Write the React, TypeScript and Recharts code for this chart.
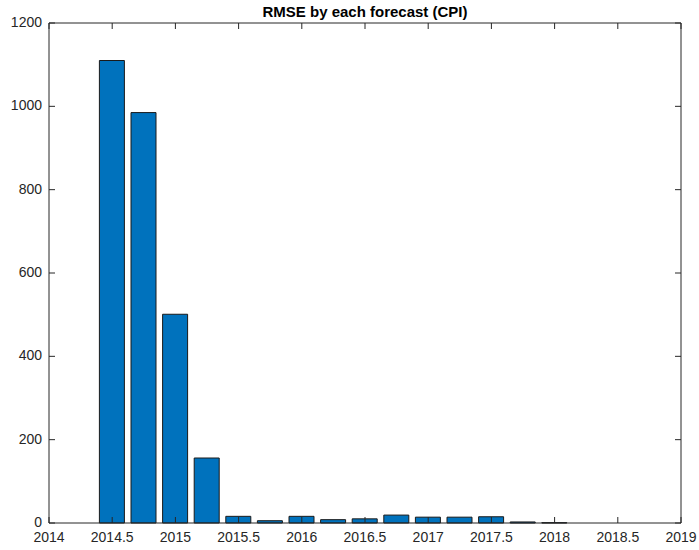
import React from "react";
import { ComposedChart, Bar, Line, XAxis, YAxis } from "recharts";

const periods: number[] = [2014.5, 2014.75, 2015, 2015.25, 2015.5, 2015.75, 2016, 2016.25, 2016.5, 2016.75, 2017, 2017.25, 2017.5, 2017.75, 2018];
const rmse: number[] = [1110, 985, 501, 156, 16, 5.5, 16, 8, 10, 19, 14, 14, 15, 2.5, 0.8];
const xTicks: number[] = [2014, 2014.5, 2015, 2015.5, 2016, 2016.5, 2017, 2017.5, 2018, 2018.5, 2019];
const yTicks: number[] = [0, 200, 400, 600, 800, 1000, 1200];
const title = "RMSE by each forecast (CPI)";

const data = periods.map((p, i) => ({ period: p, rmse: rmse[i] }));

const FONT = "'Liberation Sans', Arial, Helvetica, sans-serif";
const INK = "#262626";
const TL = 6;

const BottomTick = (props: any) => {
  const { x, y, payload } = props;
  return (
    <g>
      <line x1={x} y1={y} x2={x} y2={y - TL} stroke={INK} strokeWidth={1} />
      <text x={x} y={y + 19} textAnchor="middle" fontSize={14} fontFamily={FONT} fill={INK}>
        {String(payload.value)}
      </text>
    </g>
  );
};

const TopTick = (props: any) => {
  const { x, y } = props;
  return <line x1={x} y1={y} x2={x} y2={y + TL} stroke={INK} strokeWidth={1} />;
};

const LeftTick = (props: any) => {
  const { x, y, payload } = props;
  return (
    <g>
      <line x1={x} y1={y} x2={x + TL} y2={y} stroke={INK} strokeWidth={1} />
      <text x={x - 7} y={y + 4} textAnchor="end" fontSize={14} fontFamily={FONT} fill={INK}>
        {String(payload.value)}
      </text>
    </g>
  );
};

const RightTick = (props: any) => {
  const { x, y } = props;
  return <line x1={x} y1={y} x2={x - TL} y2={y} stroke={INK} strokeWidth={1} />;
};

export default function App() {
  return (
    <div style={{ position: "absolute", left: 0, top: 0, width: 699, height: 550, background: "#fff" }}>
      <svg width={699} height={30} style={{ position: "absolute", left: 0, top: 0 }}>
        <text x={365} y={17} textAnchor="middle" fontSize={15} fontWeight="bold" fontFamily={FONT} fill="#000">
          {title}
        </text>
      </svg>
      <ComposedChart
        width={699}
        height={550}
        data={data}
        margin={{ top: 22, right: 17, left: 0, bottom: 0 }}
      >
        <XAxis
          dataKey="period"
          type="number"
          domain={[2014, 2019]}
          ticks={xTicks}
          allowDataOverflow
          height={27}
          tickSize={0}
          tickMargin={0}
          tickLine={false}
          axisLine={{ stroke: INK }}
          tick={<BottomTick />}
          interval={0}
        />
        <XAxis
          xAxisId="top"
          dataKey="period"
          type="number"
          orientation="top"
          domain={[2014, 2019]}
          ticks={xTicks}
          allowDataOverflow
          height={1}
          tickSize={0}
          tickMargin={0}
          tickLine={false}
          axisLine={{ stroke: INK }}
          tick={<TopTick />}
          interval={0}
        />
        <YAxis
          type="number"
          domain={[0, 1200]}
          ticks={yTicks}
          width={49}
          tickSize={0}
          tickMargin={0}
          tickLine={false}
          axisLine={{ stroke: INK }}
          tick={<LeftTick />}
          interval={0}
        />
        <YAxis
          yAxisId="right"
          orientation="right"
          type="number"
          domain={[0, 1200]}
          ticks={yTicks}
          width={1}
          tickSize={0}
          tickMargin={0}
          tickLine={false}
          axisLine={{ stroke: INK }}
          tick={<RightTick />}
          interval={0}
        />
        <Bar dataKey="rmse" fill="#0072BD" stroke="#1a1a1a" strokeWidth={1} barSize={25} isAnimationActive={false} />
        <Line
          xAxisId="top"
          yAxisId="right"
          dataKey="rmse"
          stroke="none"
          strokeWidth={0}
          dot={false}
          activeDot={false}
          legendType="none"
          isAnimationActive={false}
        />
      </ComposedChart>
    </div>
  );
}
